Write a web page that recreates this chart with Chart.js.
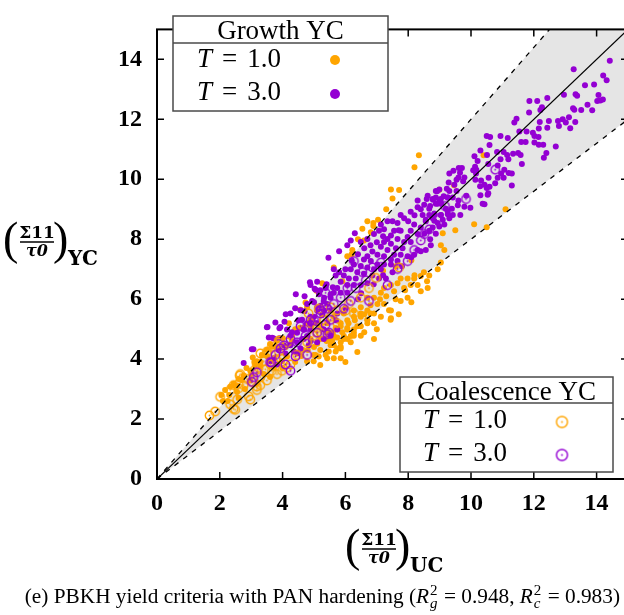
<!DOCTYPE html>
<html>
<head>
<meta charset="utf-8">
<script src="https://cdn.jsdelivr.net/npm/chart.js@4/dist/chart.umd.min.js"></script>
<style>
  html, body { margin: 0; padding: 0; background: #fff; }
  #wrap { width: 624px; height: 615px; overflow: hidden; position: relative; }
  canvas { display: block; }
</style>
</head>
<body>
<div id="wrap"><canvas id="yc" width="640" height="615"></canvas></div>
<script>
// axis setup
const axisMin = 0;
const axisMax = 15;
const tickStep = 2;

// reference lines: y = x and the +/-20% cone
const diagonal = [[0, 0], [15, 15]];
const coneUpper = [[0, 0], [15, 18]];
const coneLower = [[0, 0], [15, 12]];

// Growth YC, T = 1.0 (orange dots)
const growthT1 = [
  [3.18,3.93],[3.34,4.14],[3.50,4.30],[3.66,4.41],[3.82,4.62],[3.29,3.77],[3.13,3.82],[2.97,3.61],
  [2.76,3.45],[2.60,3.34],[2.44,3.18],[2.33,3.08],[2.17,2.97],[2.97,3.29],[3.40,3.50],[3.72,3.71],
  [3.98,3.93],[4.14,4.09],[4.46,4.19],[4.78,5.73],[4.57,5.65],[5.08,6.28],[5.26,6.53],[5.63,4.46],
  [5.74,4.35],[5.74,4.72],[5.58,4.62],[5.37,4.14],[5.15,4.09],[4.99,3.93],[5.10,4.51],[5.42,4.94],
  [5.69,5.04],[3.88,3.82],[2.05,2.80],[2.25,2.60],[2.55,2.90],[2.85,3.70],[3.05,4.05],[4.30,4.80],
  [4.55,5.05],[4.20,5.20],[4.65,4.30],
  [7.45,9.66],[7.71,9.64],[7.50,9.36],[6.89,8.54],[7.04,8.65],[6.89,8.44],[6.54,8.35],[6.81,8.23],
  [6.59,7.96],[6.22,7.64],[6.06,7.43],[5.63,7.06],[4.73,5.89],[9.04,7.80],[9.15,7.64],[9.04,7.22],
  [8.94,7.00],[8.67,6.79],[8.40,6.77],[8.19,6.69],[7.98,6.69],[7.76,6.69],[7.66,6.53],[7.45,6.47],
  [7.23,6.37],[8.08,6.47],[8.30,6.47],[7.87,6.37],[7.55,6.26],[7.13,6.21],[6.91,6.05],[6.70,6.05],
  [7.02,5.84],[7.23,5.84],[7.45,5.62],[7.45,5.36],[6.91,5.20],[6.70,5.30],[6.49,5.41],[6.27,5.41],
  [6.49,5.10],[6.27,4.99],[6.06,4.99],[6.17,4.77],[5.95,4.77],[5.85,4.56],[5.63,4.77],[5.74,4.99],
  [5.53,4.88],[5.85,5.20],[6.06,5.30],[7.76,5.94],[7.98,6.05],[8.40,6.26],[8.62,6.37],[6.70,5.62],
  [6.49,5.73],[6.27,5.62],[5.95,5.52],[5.63,5.41],[5.42,5.20],[5.21,5.10],[6.91,5.52],[7.13,5.41],
  [5.85,5.10],[6.06,5.04],[6.27,4.88],[6.49,4.78],[5.95,4.67],[6.17,4.56],[5.53,4.56],[5.85,4.41],
  [6.70,5.20],[6.80,5.52],[6.49,5.52],[5.42,4.88],[5.21,4.67],[4.99,4.14],[4.78,3.93],[4.67,5.04],
  [4.57,5.63],[4.89,4.67],[6.91,4.67],[6.38,4.24],[5.05,4.14],[5.53,4.46],[5.47,4.25],[5.69,4.25],
  [5.85,4.35],[6.06,4.67],[6.27,4.78],[5.42,4.67],[6.38,5.10],[6.70,5.31],[7.39,5.63],[7.44,5.31],
  [5.63,4.03],[5.85,4.03],[5.42,4.03],[7.20,6.95],[7.60,7.10],[8.10,7.30],
  [8.34,10.80],[8.20,10.40],[8.99,9.65],[9.46,9.80],[10.40,10.80],[11.10,9.00],[10.10,8.50],
  [10.50,8.40],[9.50,8.30],[9.10,8.20],
  [2.10,2.60],[2.30,2.80],[2.50,3.10],[2.70,3.30],[2.80,3.00],[3.00,3.50],[3.10,3.90],[3.30,3.90],
  [3.50,4.10],[3.60,4.50],[3.80,4.40],[4.00,4.70],[4.10,4.40],[4.30,4.60],[4.40,5.00],[2.60,2.70],
  [3.20,3.20],[3.60,3.40],[4.00,3.70],[4.40,3.90],[4.60,4.10],[4.80,4.30],[5.00,4.40],[5.20,4.30],
  [5.40,4.60],[5.60,4.90],[5.90,4.90],[6.10,5.20],[6.30,5.30],[6.60,5.50],[6.80,5.80],[7.10,6.00],
  [7.30,6.10],[7.60,6.00],[7.90,6.30],[8.20,6.80],[8.50,6.90],[6.00,3.90],[6.60,4.90],[7.00,5.00],
  [7.70,5.50],[8.10,5.90],[8.60,6.60],[5.20,3.80],[6.20,7.50],[6.40,8.00],[6.70,8.60],[7.30,9.00],
  [5.90,6.60]
];

// Growth YC, T = 3.0 (violet dots)
const growthT3 = [
  [14.42,13.95],[13.27,13.67],[14.21,13.46],[14.32,13.30],[13.63,13.14],[13.92,13.16],[13.33,12.84],
  [13.38,12.79],[14.06,12.81],[14.02,12.61],[14.20,12.66],[14.12,12.63],[13.71,12.49],[13.51,12.31],
  [13.86,12.30],[13.25,12.37],[13.29,12.32],[12.96,12.82],[12.43,12.71],[12.11,12.61],[11.86,12.61],
  [12.26,12.40],[12.21,12.31],[11.85,12.23],[13.12,12.07],[12.77,11.94],[12.92,12.00],[12.80,11.78],
  [13.02,11.89],[13.32,11.91],[13.16,11.70],[12.48,11.94],[12.19,11.91],[12.43,11.72],[12.16,11.69],
  [11.45,12.02],[11.38,11.89],[11.54,11.59],[11.77,11.59],[11.97,11.55],[12.02,11.44],[12.15,11.41],
  [10.50,11.44],[10.61,11.41],[10.94,11.44],[11.17,11.38],[11.60,11.24],[11.74,11.24],[12.02,11.23],
  [12.16,11.15],[12.30,11.15],[12.70,11.09],[12.40,10.88],[12.32,10.72],[10.30,10.96],[10.59,11.14],
  [10.83,10.91],[11.04,10.91],[11.15,10.81],[11.34,10.85],[11.50,10.88],[11.58,10.81],[11.62,10.51],
  [11.19,10.67],[10.94,10.67],[10.51,10.81],[10.11,10.77],[10.21,10.61],[10.13,10.42],[10.17,10.32],
  [10.55,10.51],[10.85,10.46],[11.06,10.32],[11.20,10.21],[11.30,10.19],[10.96,10.19],[10.85,10.05],
  [11.04,10.05],[10.56,10.05],[10.77,9.87],[11.30,9.79],[9.61,10.38],[9.71,10.38],[9.44,10.28],
  [9.31,10.19],[9.65,10.22],[9.60,10.06],[9.79,10.06],[10.07,10.30],[10.16,10.19],[9.29,9.89],
  [9.54,9.98],[9.75,9.93],[10.14,9.98],[10.32,9.96],[10.29,9.77],[10.43,9.82],[10.50,9.71],
  [10.59,9.75],[10.55,9.53],[10.53,9.48],[10.30,9.47],[10.37,9.18],[10.43,9.17],[9.85,9.45],
  [9.98,9.05],[9.79,9.08],[9.60,9.29],[9.42,9.39],[9.26,9.39],[9.13,9.43],[8.99,9.32],[8.88,9.39],
  [8.79,9.32],[8.88,9.61],[8.99,9.66],[9.31,9.61],[9.54,9.61],[9.47,9.82],[8.59,9.34],[8.51,9.15],
  [8.70,9.11],[8.88,9.18],[9.06,9.18],[9.20,9.02],[9.39,9.02],[9.58,9.13],[9.66,8.81],[9.42,8.81],
  [9.26,8.83],[9.04,8.81],[8.85,8.81],[8.67,8.81],[8.56,8.65],[8.83,8.62],[9.10,8.65],[8.78,8.39],
  [8.99,8.42],[8.67,8.28],[8.88,8.18],[8.51,8.18],
  [8.92,9.60],[9.23,9.68],[9.04,9.34],[8.78,9.34],[8.94,9.18],[9.26,9.39],[8.67,9.02],[8.30,9.07],
  [8.46,8.81],[8.83,8.86],[9.04,8.81],[9.26,8.92],[9.31,8.70],[9.15,8.49],[8.94,8.54],[8.78,8.70],
  [8.56,8.60],[8.40,8.39],[8.19,8.49],[8.08,8.28],[8.30,8.17],[7.76,8.81],[7.76,8.28],[7.55,8.28],
  [7.45,8.12],[7.34,8.01],[7.66,8.01],[7.98,8.07],[7.87,7.91],[7.45,7.85],[7.23,7.91],[7.13,7.75],
  [7.34,7.64],[7.61,7.70],[7.82,7.70],[8.08,7.91],[8.30,7.64],[8.56,7.64],[8.72,7.80],[8.19,7.48],
  [7.98,7.43],[7.76,7.48],[7.55,7.48],[7.45,7.32],[7.23,7.43],[7.02,7.48],[6.86,7.59],[6.70,7.43],
  [6.59,7.32],[6.81,7.27],[7.02,7.16],[7.23,7.16],[7.45,7.16],[7.66,7.27],[7.13,7.00],[6.91,7.00],
  [6.70,7.06],[6.49,7.11],[6.27,7.16],[6.17,7.00],[6.38,6.90],[6.59,6.85],[6.86,6.79],[7.07,6.69],
  [7.29,6.69],[6.33,6.69],[6.11,6.69],[5.95,6.79],[5.85,6.58],[6.06,6.47],[6.27,6.47],[6.49,6.47],
  [6.70,6.53],[5.74,6.37],[5.63,6.21],[5.85,6.21],[6.06,6.21],[5.53,6.05],[5.32,6.05],[5.42,5.84],
  [5.21,5.78],[5.10,5.62],[5.32,5.62],[5.00,5.41],[4.89,5.30],[4.78,5.20],[5.05,5.20],[4.68,4.99],
  [4.89,4.99],[4.78,4.77],[4.62,4.67],[5.46,7.38],[5.10,6.58],[4.89,6.47],[5.05,6.31],[4.78,5.84],
  [4.94,5.94],[5.16,6.16],[5.37,6.42],[5.63,7.00],[5.69,6.79],[6.06,7.80],[6.17,7.96],[6.49,7.91],
  [6.70,8.01],[6.91,8.17],[7.07,8.28],[7.23,8.33],[7.13,8.49],[7.34,8.60],[7.66,8.54],[7.87,8.70],
  [8.08,8.92],[8.30,9.29],[8.62,9.45],
  [4.42,6.16],[4.87,6.56],[5.02,6.35],[4.25,5.52],[4.06,5.25],[3.77,5.22],[3.52,5.07],[3.93,5.07],
  [3.56,4.72],[3.72,4.69],[2.76,3.87],[3.02,4.33],[4.14,4.99],[4.57,5.63],[4.62,5.31],[4.89,5.41],
  [5.10,5.73],[5.31,5.94],[5.53,6.16],[5.53,5.63],[5.26,5.47],[4.25,4.78],[4.46,4.88],[4.67,4.99],
  [4.89,5.10],[5.10,5.20],[4.04,4.46],[4.25,4.46],[4.46,4.56],[4.67,4.67],[3.88,4.30],[4.09,4.19],
  [3.72,4.03],[4.36,4.25],[4.57,4.35],[3.82,3.82],[3.61,3.93],[4.83,4.46],[5.10,4.56],[5.31,4.67],
  [5.53,4.78],[5.74,4.99],[5.74,5.52],[5.37,6.37],[3.07,4.33],[3.50,5.06],[3.90,5.03],[3.67,4.71],
  [4.30,4.90],[4.50,5.30],[4.70,5.60],[5.00,5.90],[5.20,6.30],[5.40,6.50],[5.60,6.40],[5.80,6.90],
  [6.00,7.00],[6.20,7.30],[6.40,7.50],[6.60,7.70],[6.80,7.80],[7.00,7.90],[7.20,8.10],[7.50,8.60],
  [7.70,8.30],[8.00,8.60],[8.20,8.80],[8.40,9.00],[6.50,6.20],[6.90,6.50],[7.20,6.80],[7.50,6.90],
  [7.80,7.10],[8.10,7.40],[8.40,7.60],[8.70,8.00],[4.50,4.20],[4.90,4.60],[5.30,5.00],[5.70,5.30],
  [6.00,5.70],[6.40,6.00],[3.90,4.70],[4.10,5.50],[4.40,5.70],[4.70,6.10],[5.80,7.60],[6.30,8.20]
];

// Coalescence YC, T = 1.0 (orange rings)
const coalT1 = [
  [1.67,2.12],[1.85,2.25],[2.01,2.74],[2.49,2.31],[2.33,2.97],[2.44,3.13],[2.60,3.03],[2.76,3.13],
  [2.63,3.45],[2.86,3.34],[3.02,3.24],[2.92,2.76],[3.18,2.97],[3.29,3.13],[3.08,3.61],[3.18,3.82],
  [3.40,3.93],[3.29,4.19],[3.50,4.19],[3.66,4.41],[3.88,4.62],[3.61,3.82],[3.45,3.66],[3.77,3.98],
  [3.88,4.25],[2.33,2.49],[2.97,2.65],[2.55,2.65],[2.44,2.34],[2.65,3.50],[2.60,3.18],[3.18,3.08],
  [3.29,3.40],[3.50,3.29],[3.24,3.71],[3.66,3.61],[3.82,3.50],[3.98,3.61],[4.14,3.71],[4.25,3.82],
  [3.93,4.03],[3.50,4.25],[3.88,4.56],[4.14,4.56],[4.46,4.14],[4.78,4.56],[4.99,4.78],[5.21,4.88],
  [5.10,5.04],[5.31,5.31],[5.53,5.41],[5.74,5.63],[4.83,5.52],[5.15,5.68],[4.89,5.20],[5.32,5.30],
  [5.74,5.20],[6.01,5.62],[6.11,5.84],[6.49,6.05],[6.75,6.37],[5.53,5.73],[6.27,5.52],[5.10,4.88],
  [7.71,7.06],[6.97,6.71]
];

// Coalescence YC, T = 3.0 (violet rings)
const coalT3 = [
  [6.27,7.27],[6.54,6.90],[6.65,6.63],[6.75,5.94],[6.33,6.37],[6.06,6.37],[5.85,6.05],[5.63,5.84],
  [5.42,5.68],[5.21,5.52],[5.00,5.30],[4.78,5.10],[6.17,5.94],[5.95,5.68],[5.48,4.88],[5.37,6.21],
  [7.34,6.47],[7.66,7.01],[7.13,7.22],[6.86,7.06],[7.98,7.27],[8.19,7.64],[8.51,8.17],[8.67,8.33],
  [8.40,7.96],[3.18,3.56],[3.02,3.24],[3.08,3.40],[3.64,3.89],[3.77,4.14],[4.09,3.82],[4.41,4.09],
  [4.25,3.61],[4.78,4.14],[4.46,4.56],[4.73,4.78],[5.10,4.88],[5.42,4.83],[5.37,5.15],[5.53,5.31],
  [5.21,5.63],[4.57,5.10],[4.89,5.31],[5.31,5.73],[4.04,4.46],[4.25,4.67],[3.93,4.35],[3.60,3.90],
  [10.77,10.32],[9.84,9.34],[9.17,9.11]
];

const orange = "#ffa500";
const violet = "#9400d3";

const serif = "'Liberation Serif', 'Times New Roman', serif";

// ring with a centre dot, used for the coalescence points
function ringImage(color, r) {
  const s = Math.ceil(r * 2 + 4);
  const c = document.createElement("canvas");
  c.width = s;
  c.height = s;
  const g = c.getContext("2d");
  g.strokeStyle = color;
  g.lineWidth = 1.4;
  g.beginPath();
  g.arc(s / 2, s / 2, r, 0, Math.PI * 2);
  g.stroke();
  g.fillStyle = color;
  g.beginPath();
  g.arc(s / 2, s / 2, 0.9, 0, Math.PI * 2);
  g.fill();
  return c;
}

const toXY = (arr) => arr.map(([x, y]) => ({ x, y }));

// "T = 1.0" style math label
function drawMathRow(ctx, x, y, value) {
  ctx.font = "italic 27px " + serif;
  ctx.fillText("T", x, y);
  x += ctx.measureText("T").width + 10;
  ctx.font = "27px " + serif;
  ctx.fillText("=", x, y);
  x += ctx.measureText("=").width + 10;
  ctx.fillText(value, x, y);
}

function drawKey(ctx, k) {
  ctx.save();
  ctx.fillStyle = "#fff";
  ctx.fillRect(k.x, k.y, k.w, k.h);
  ctx.strokeStyle = "#4a4a4a";
  ctx.lineWidth = 1.5;
  ctx.strokeRect(k.x, k.y, k.w, k.h);
  ctx.beginPath();
  ctx.moveTo(k.x, k.sep);
  ctx.lineTo(k.x + k.w, k.sep);
  ctx.stroke();

  ctx.fillStyle = "#000";
  ctx.textAlign = "center";
  ctx.textBaseline = "alphabetic";
  ctx.font = "27px " + serif;
  ctx.fillText(k.title, k.x + k.w / 2, k.titleY);

  ctx.textAlign = "left";
  k.rows.forEach((r) => {
    ctx.fillStyle = "#000";
    drawMathRow(ctx, k.textX, r.y, r.label);
    if (r.ring) {
      const img = ringImage(r.color, 5.5);
      ctx.drawImage(img, k.markX - img.width / 2, r.my - img.height / 2);
    } else {
      ctx.fillStyle = r.color;
      ctx.beginPath();
      ctx.arc(k.markX, r.my, 5, 0, Math.PI * 2);
      ctx.fill();
    }
  });
  ctx.restore();
}

// (Sigma11 / tau0)_sub  axis title
function drawFracTitle(ctx, x0, yb, sub) {
  ctx.save();
  ctx.fillStyle = "#000";
  ctx.strokeStyle = "#000";
  ctx.textBaseline = "alphabetic";
  ctx.textAlign = "left";
  ctx.font = "46px " + serif;
  ctx.fillText("(", x0, yb);
  ctx.fillText(")", x0 + 50, yb);

  ctx.textAlign = "center";
  ctx.font = "bold 17px 'DejaVu Serif', serif";
  ctx.fillText("Σ11", x0 + 34, yb - 16);
  ctx.lineWidth = 1.3;
  ctx.beginPath();
  ctx.moveTo(x0 + 17, yb - 12);
  ctx.lineTo(x0 + 51, yb - 12);
  ctx.stroke();
  ctx.font = "bold italic 16px 'DejaVu Serif', serif";
  ctx.fillText("τ0", x0 + 34, yb + 2);

  ctx.textAlign = "left";
  ctx.font = "bold 20px 'DejaVu Serif', serif";
  ctx.fillText(sub, x0 + 65, yb + 11);
  ctx.restore();
}

// caption under the chart, right edge fixed
function drawCaption(ctx, right, y) {
  const size = 21.3;
  const normal = size + "px " + serif;
  const italic = "italic " + size + "px " + serif;
  const small = "15px " + serif;
  const smallIt = "italic 15px " + serif;
  const parts = [
    ["(e) PBKH yield criteria with PAN hardening (", "n"],
    ["g", "r"],
    [" = 0.948, ", "n"],
    ["c", "r"],
    [" = 0.983)", "n"],
  ];

  ctx.save();
  ctx.fillStyle = "#000";
  ctx.textAlign = "left";
  ctx.textBaseline = "alphabetic";

  const run = (draw) => {
    let x = 0;
    parts.forEach(([txt, kind]) => {
      if (kind === "n") {
        ctx.font = normal;
        if (draw) ctx.fillText(txt, draw.x0 + x, y);
        x += ctx.measureText(txt).width;
      } else {
        ctx.font = italic;
        if (draw) ctx.fillText("R", draw.x0 + x, y);
        x += ctx.measureText("R").width + 1;
        ctx.font = small;
        const w1 = ctx.measureText("2").width;
        if (draw) ctx.fillText("2", draw.x0 + x, y - 8);
        ctx.font = smallIt;
        const w2 = ctx.measureText(txt).width;
        if (draw) ctx.fillText(txt, draw.x0 + x, y + 5);
        x += Math.max(w1, w2) + 1;
      }
    });
    return x;
  };

  const total = run(null);
  run({ x0: right - total });
  ctx.restore();
}

// frame with inward ticks on all four sides, keys and titles
const decorPlugin = {
  id: "decor",
  afterDatasetsDraw(chart) {
    const ctx = chart.ctx;
    const a = chart.chartArea;
    const xs = chart.scales.x;
    const ys = chart.scales.y;
    ctx.save();
    ctx.strokeStyle = "#000";
    ctx.lineWidth = 2;
    ctx.strokeRect(a.left, a.top, a.right - a.left, a.bottom - a.top);
    ctx.lineWidth = 1.5;
    ctx.beginPath();
    xs.ticks.forEach((t) => {
      const px = xs.getPixelForValue(t.value);
      ctx.moveTo(px, a.bottom);
      ctx.lineTo(px, a.bottom - 7);
      ctx.moveTo(px, a.top);
      ctx.lineTo(px, a.top + 7);
    });
    ys.ticks.forEach((t) => {
      const py = ys.getPixelForValue(t.value);
      ctx.moveTo(a.left, py);
      ctx.lineTo(a.left + 7, py);
      ctx.moveTo(a.right, py);
      ctx.lineTo(a.right - 7, py);
    });
    ctx.stroke();
    ctx.restore();

    drawKey(ctx, {
      x: 173, y: 16, w: 215, h: 95, sep: 43, title: "Growth YC", titleY: 39,
      textX: 197, markX: 335,
      rows: [
        { label: "1.0", y: 67, my: 60, color: orange },
        { label: "3.0", y: 100, my: 94, color: violet },
      ],
    });
    drawKey(ctx, {
      x: 400, y: 377, w: 213, h: 95, sep: 403, title: "Coalescence YC", titleY: 400,
      textX: 423, markX: 562,
      rows: [
        { label: "1.0", y: 428, my: 422, color: orange, ring: true },
        { label: "3.0", y: 461, my: 455, color: violet, ring: true },
      ],
    });

    drawFracTitle(ctx, 3, 254, "YC");
    drawFracTitle(ctx, 345, 561, "UC");
    drawCaption(ctx, 620, 603);
  },
};

const tickFont = { family: serif, weight: "bold", size: 24 };

// shaded band edges (no stroke), drawn beneath the points
const bandEdge = {
  type: "line",
  borderWidth: 0,
  borderColor: "rgba(0,0,0,0)",
  pointRadius: 0,
};

// line overlays drawn above the points
const dashed = {
  type: "line",
  borderColor: "#000",
  borderWidth: 1.3,
  borderDash: [5, 6],
  pointRadius: 0,
  fill: false,
  order: 0,
};

new Chart(document.getElementById("yc"), {
  type: "scatter",
  data: {
    datasets: [
      Object.assign({}, bandEdge, { data: toXY(coneLower), fill: false, order: 11 }),
      Object.assign({}, bandEdge, { data: toXY(coneUpper), fill: "-1", backgroundColor: "#e5e5e5", order: 10 }),
      {
        data: toXY(growthT1),
        backgroundColor: orange,
        borderWidth: 0,
        pointRadius: 3,
        order: 4,
      },
      {
        data: toXY(growthT3),
        backgroundColor: violet,
        borderWidth: 0,
        pointRadius: 3,
        order: 3,
      },
      {
        data: toXY(coalT1),
        pointStyle: ringImage(orange, 4.2),
        order: 2,
      },
      {
        data: toXY(coalT3),
        pointStyle: ringImage(violet, 4.2),
        order: 1,
      },
      Object.assign({}, dashed, { data: toXY(coneLower) }),
      Object.assign({}, dashed, { data: toXY(coneUpper) }),
      {
        type: "line",
        data: toXY(diagonal),
        borderColor: "#000",
        borderWidth: 1.2,
        pointRadius: 0,
        fill: false,
        order: 0,
      },
    ],
  },
  options: {
    responsive: false,
    animation: false,
    layout: { padding: { top: 9, right: 12, left: 0, bottom: 0 } },
    plugins: {
      legend: { display: false },
      tooltip: { enabled: false },
    },
    scales: {
      x: {
        type: "linear",
        min: axisMin,
        max: axisMax,
        ticks: { stepSize: tickStep, includeBounds: false, color: "#000", font: tickFont, padding: 10, maxRotation: 0 },
        grid: { display: false, drawTicks: false },
        border: { display: false },
        afterFit: (s) => { s.height = 136; },
      },
      y: {
        type: "linear",
        min: axisMin,
        max: axisMax,
        ticks: { stepSize: tickStep, includeBounds: false, color: "#000", font: tickFont, padding: 15 },
        grid: { display: false, drawTicks: false },
        border: { display: false },
        afterFit: (s) => { s.width = 157; },
      },
    },
  },
  plugins: [decorPlugin],
});
</script>
</body>
</html>
